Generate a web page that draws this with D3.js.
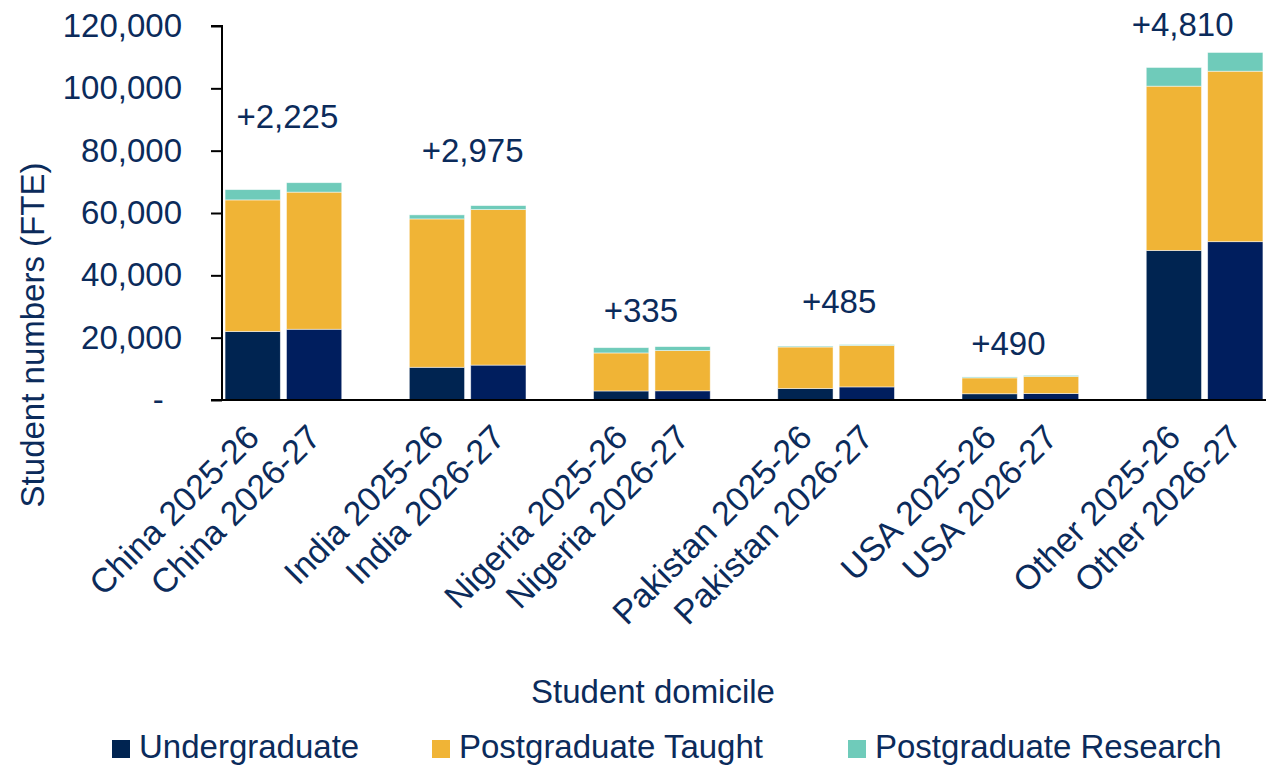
<!DOCTYPE html>
<html>
<head>
<meta charset="utf-8">
<script src="https://cdn.jsdelivr.net/npm/d3@7"></script>
<style>
  body { margin: 0; background: #fff; }
  text { font-family: "Liberation Sans", Arial, sans-serif; fill: #0b2b5b; }
</style>
</head>
<body>
<script>
// Student numbers (FTE) by domicile, 2025-26 vs 2026-27

var countries = ["China", "India", "Nigeria", "Pakistan", "USA", "Other"];
var years = ["2025-26", "2026-27"];
var seriesNames = ["Undergraduate", "Postgraduate Taught", "Postgraduate Research"];

// [2025-26, 2026-27] per country
var undergraduate = [[22000, 22700], [10500, 11200], [2900, 2950], [3700, 4200], [2000, 2100], [48000, 50800]];
var pgTaught      = [[42200, 44000], [47600, 49900], [12200, 12900], [13300, 13300], [5100, 5450], [52700, 54700]];
var pgResearch    = [[3300, 3025], [1300, 1275], [1700, 1285], [300, 285], [300, 340], [6000, 6010]];

var yTicks = [0, 20000, 40000, 60000, 80000, 100000, 120000];

var W = 1268, H = 767;
var ugColours = ["#002451", "#001e5e"];
var ptColour = "#f0b436";
var prColour = "#6fcbba";

var svg = d3.select("body").append("svg")
    .attr("width", W)
    .attr("height", H);

// Category keys, with a blank slot between countries (as in the Excel chart)
var keys = [];
countries.forEach(function(c, i) {
    years.forEach(function(y) { keys.push(c + " " + y); });
    if (i < countries.length - 1) keys.push("gap" + i);
});

var x = d3.scaleBand().domain(keys).range([222, 1266]).paddingInner(0.1).paddingOuter(0.05);
var y = d3.scaleLinear().domain([0, 120000]).range([400, 26]);

// Build stacked rows
var rows = [];
countries.forEach(function(c, i) {
    years.forEach(function(yr, j) {
        rows.push({
            key: c + " " + yr, country: i, year: j,
            "Undergraduate": undergraduate[i][j],
            "Postgraduate Taught": pgTaught[i][j],
            "Postgraduate Research": pgResearch[i][j]
        });
    });
});
var stacked = d3.stack().keys(seriesNames)(rows);

var fillFor = function(series, d) {
    if (series === "Undergraduate") return ugColours[d.data.year];
    if (series === "Postgraduate Taught") return ptColour;
    return prColour;
};

svg.append("g").selectAll("g")
    .data(stacked)
    .join("g")
    .each(function(s) {
        d3.select(this).selectAll("rect")
            .data(s)
            .join("rect")
            .attr("x", function(d) { return x(d.data.key); })
            .attr("width", x.bandwidth())
            .attr("y", function(d) { return y(d[1]); })
            .attr("height", function(d) { return y(d[0]) - y(d[1]); })
            .attr("fill", function(d) { return fillFor(s.key, d); })
            .attr("stroke", "#ffffff")
            .attr("stroke-opacity", 0.6)
            .attr("stroke-width", 0.8);
    });

// Y axis
var yAxis = d3.axisLeft(y)
    .tickValues(yTicks)
    .tickSize(11)
    .tickPadding(29)
    .tickFormat(function(d) { return d === 0 ? "-\u00a0\u00a0" : d3.format(",")(d); });

var gy = svg.append("g").attr("transform", "translate(222,0)").call(yAxis);
gy.select(".domain").attr("stroke", "#000").attr("stroke-width", 2).attr("d", "M-11,26H0V400");
gy.selectAll(".tick line").attr("stroke", "#000").attr("stroke-width", 2);
gy.selectAll(".tick text")
    .style("font-family", "'Liberation Sans', Arial, sans-serif")
    .style("font-size", "33px")
    .attr("fill", "#0b2b5b");

// X axis line
svg.append("line")
    .attr("x1", 211).attr("x2", 1266)
    .attr("y1", y(0)).attr("y2", y(0))
    .attr("stroke", "#000").attr("stroke-width", 2);

// X tick labels (rotated)
svg.append("g").selectAll("text")
    .data(rows)
    .join("text")
    .attr("transform", function(d) {
        return "translate(" + (x(d.key) + x.bandwidth() / 2) + ",431) rotate(-45)";
    })
    .attr("text-anchor", "end")
    .attr("dy", "0.35em")
    .style("font-size", "34px")
    .text(function(d) { return d.key; });

// Change labels above each country pair
var labelDx = [4, 5, -11, 3, -12, -22];
var labelLift = [55, 44, 25, 32, 20, 16];
svg.append("g").selectAll("text")
    .data(countries)
    .join("text")
    .attr("x", function(c, i) {
        return (x(c + " " + years[0]) + x(c + " " + years[1]) + x.bandwidth()) / 2 + labelDx[i];
    })
    .attr("y", function(c, i) {
        var total = undergraduate[i][1] + pgTaught[i][1] + pgResearch[i][1];
        return y(total) - labelLift[i];
    })
    .attr("text-anchor", "middle")
    .style("font-size", "33px")
    .text(function(c, i) {
        var t0 = undergraduate[i][0] + pgTaught[i][0] + pgResearch[i][0];
        var t1 = undergraduate[i][1] + pgTaught[i][1] + pgResearch[i][1];
        return "+" + d3.format(",")(t1 - t0);
    });

// Axis titles
svg.append("text")
    .attr("transform", "translate(44,335) rotate(-90)")
    .attr("text-anchor", "middle")
    .style("font-size", "33px")
    .text("Student numbers (FTE)");

svg.append("text")
    .attr("x", 653).attr("y", 703)
    .attr("text-anchor", "middle")
    .style("font-size", "33px")
    .text("Student domicile");

// Legend
var legendX = [112, 432, 848];
var legendColours = [ugColours[0], ptColour, prColour];
var legend = svg.append("g").selectAll("g")
    .data(seriesNames)
    .join("g")
    .attr("transform", function(d, i) { return "translate(" + legendX[i] + ",740)"; });
legend.append("rect")
    .attr("width", 18).attr("height", 18)
    .attr("fill", function(d, i) { return legendColours[i]; });
legend.append("text")
    .attr("x", 27).attr("y", 18)
    .style("font-size", "33px")
    .text(function(d) { return d; });
</script>
</body>
</html>
